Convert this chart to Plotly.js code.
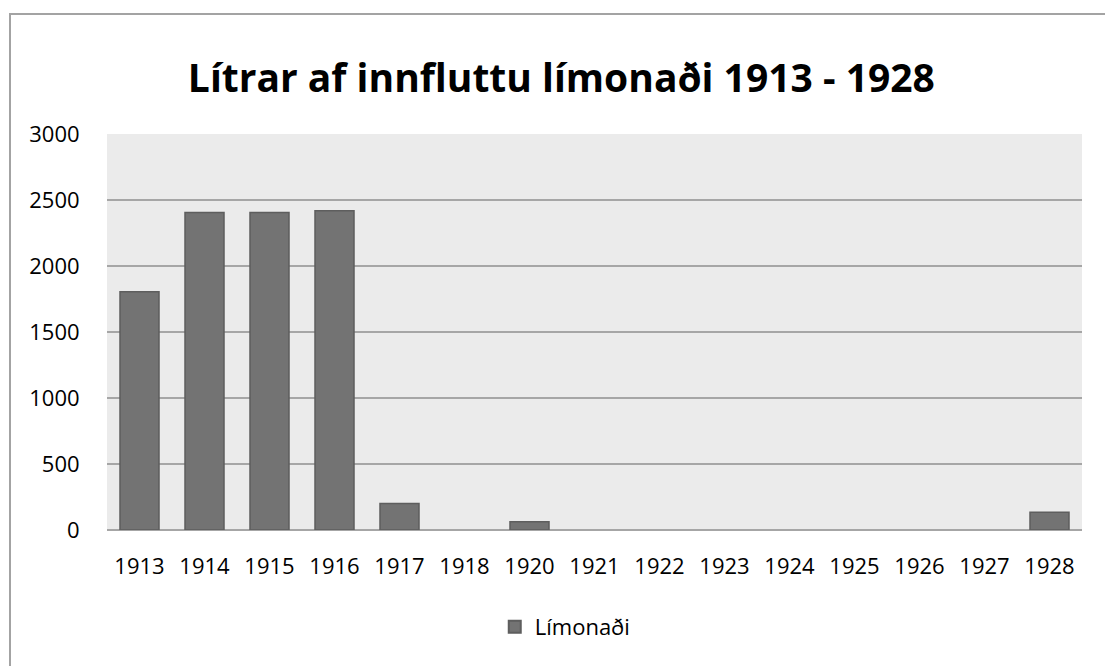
<!DOCTYPE html>
<html>
<head>
<meta charset="utf-8">
<script src="https://cdn.plot.ly/plotly-3.0.1.min.js"></script>
<style>
html,body{margin:0;padding:0;background:#fff;}
#wrap{position:relative;width:1105px;height:666px;}
#frame{position:absolute;left:9px;top:13px;width:1200px;height:700px;border-left:2px solid #a3a3a3;border-top:2px solid #a3a3a3;box-sizing:border-box;pointer-events:none;z-index:5;}
#chart{position:absolute;left:0;top:0;width:1105px;height:666px;}
</style>
</head>
<body>
<div id="wrap">
<div id="chart"></div>
<div id="frame"></div>
</div>
<script>
const years = ["1913","1914","1915","1916","1917","1918","1920","1921","1922","1923","1924","1925","1926","1927","1928"];
const litres = [1805, 2405, 2405, 2418, 200, 0, 62, 0, 0, 0, 0, 0, 0, 0, 135];
const seriesName = "Límonaði";
const chartTitle = "Lítrar af innfluttu límonaði 1913 - 1928";
const yTicks = [0, 500, 1000, 1500, 2000, 2500, 3000];

const trace = {
  type: "bar",
  x: years,
  y: litres,
  name: seriesName,
  marker: {color: "#737373", line: {color: "#5e5e5e", width: litres.map(v => v > 0 ? 1.5 : 0)}},
  showlegend: true,
  hoverinfo: "x+y"
};

const layout = {
  width: 1105,
  height: 666,
  margin: {l: 107, r: 23, t: 134, b: 136},
  paper_bgcolor: "#ffffff",
  plot_bgcolor: "#ebebeb",
  font: {family: "'Open Sans', sans-serif", color: "#000"},
  title: {
    text: "<b>" + chartTitle + "</b>",
    font: {family: "'Open Sans', Lato, sans-serif", size: 39, color: "#000"},
    x: 0.508, xanchor: "center",
    y: 0.883, yanchor: "middle"
  },
  bargap: 0.4,
  xaxis: {
    type: "category",
    tickfont: {size: 22, family: "'Open Sans', sans-serif"},
    showgrid: false,
    showline: false,
    ticks: "outside",
    ticklen: 17,
    tickcolor: "rgba(0,0,0,0)",
    automargin: false
  },
  yaxis: {
    range: [0, 3000],
    tickvals: yTicks,
    ticktext: yTicks.map(String),
    tickfont: {size: 22, family: "'Open Sans', sans-serif"},
    showgrid: true,
    gridcolor: "#a6a6a6",
    gridwidth: 1.5,
    zeroline: true,
    zerolinecolor: "#a6a6a6",
    zerolinewidth: 2,
    showline: false,
    ticks: "outside",
    ticklen: 22,
    tickcolor: "rgba(0,0,0,0)",
    automargin: false,
    fixedrange: true
  },
  legend: {
    orientation: "h",
    x: 0.47, xanchor: "center",
    y: -0.245, yanchor: "middle",
    font: {size: 22, family: "'Open Sans', sans-serif"},
    itemwidth: 16,
    itemsizing: "constant"
  }
};

Plotly.newPlot("chart", [trace], layout, {displayModeBar: false, staticPlot: true});
</script>
</body>
</html>
